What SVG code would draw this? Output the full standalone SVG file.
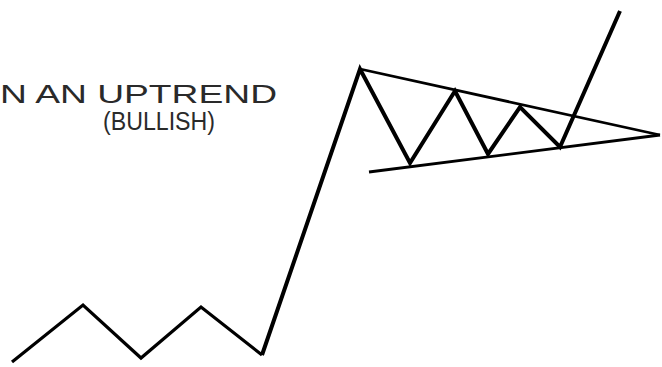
<svg xmlns="http://www.w3.org/2000/svg" width="662" height="367" viewBox="0 0 662 367">
<style>
.price{fill:none;stroke:#000;stroke-width:4;stroke-linejoin:miter;stroke-linecap:butt}
.trend{fill:none;stroke:#000;stroke-width:2.8;stroke-linecap:butt}
.lbl{font-family:"Liberation Sans",Arial,sans-serif;font-size:26px;fill:#2a2a2a}
</style>
<rect width="662" height="367" fill="#fff"/>
<g id="label">
<text class="lbl" x="0" y="103" textLength="277" lengthAdjust="spacingAndGlyphs">N AN UPTREND</text>
<text class="lbl" x="103" y="130" textLength="112" lengthAdjust="spacingAndGlyphs">(BULLISH)</text>
</g>
<g id="trendlines">
<line class="trend" x1="360" y1="69" x2="660" y2="135"/>
<line class="trend" x1="369" y1="172" x2="660" y2="135"/>
</g>
<g id="price">
<polyline class="price" style="stroke-width:3.2" points="12,362 83,305 141,358 201,307 262,355"/>
<polyline class="price" points="262,355 360,69 410,163 455,91 488,154 520,107 560,147 620,11"/>
</g>
</svg>
